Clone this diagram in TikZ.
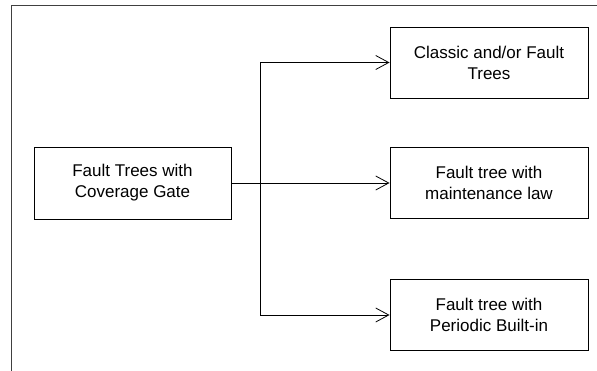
\documentclass[tikz,border=0pt]{standalone}
\usepackage{fontspec}
\setmainfont{Liberation Sans}
\usetikzlibrary{arrows.meta}

\begin{document}
\begin{tikzpicture}[x=1pt, y=-1pt, >={Straight Barb[length=13pt, width=14pt]},
        box/.style={draw, line width=0.9pt, minimum width=198pt, minimum height=71pt,
                    align=center, inner sep=0pt, font=\fontsize{17}{21}\selectfont},
        link/.style={->, line width=0.8pt}]
        \useasboundingbox (0, 0) rectangle (597, 371);
        % frame
        \draw [line width=1pt, black!75] (11, 371) -- (11, 6) -- (597, 6);

        \node [box, minimum width=197pt, minimum height=72pt] (src) at (132.5, 183) {Fault Trees with\\Coverage Gate};
        \node [box] (classic) at (489, 62.5) {Classic and/or Fault\\Trees};
        \node [box] (maint) at (489, 183) {Fault tree with\\maintenance law};
        \node [box] (periodic) at (489, 315) {Fault tree with\\Periodic Built-in};

        \coordinate (split) at (260, 183);
        \draw [link] (src.east) -- (maint.west);
        \draw [link] (split) |- (classic.west);
        \draw [link] (split) |- (periodic.west);
    \end{tikzpicture}
\end{document}
